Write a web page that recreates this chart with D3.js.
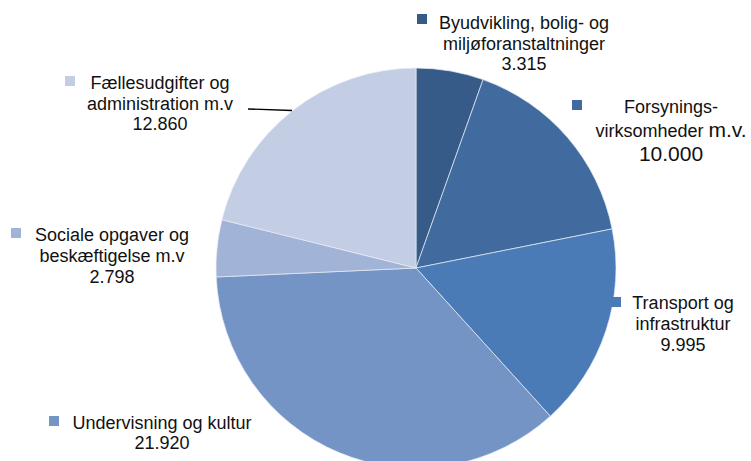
<!DOCTYPE html>
<html>
<head>
<meta charset="utf-8">
<title>Udgifter fordelt på hovedområder</title>
<script src="https://d3js.org/d3.v7.min.js"></script>
<style>
  body { margin: 0; background: #fff; }
  text { font-family: "Liberation Sans", Arial, sans-serif; fill: #111; }
</style>
</head>
<body>
<svg class="chart"></svg>
<script>
// data
const categories = [
  "Byudvikling, bolig- og miljøforanstaltninger",
  "Forsyningsvirksomheder m.v.",
  "Transport og infrastruktur",
  "Undervisning og kultur",
  "Sociale opgaver og beskæftigelse m.v",
  "Fællesudgifter og administration m.v"
];
const values = [3315, 10000, 9995, 21920, 2798, 12860];
const labelLines = [
  ["Byudvikling, bolig- og", "miljøforanstaltninger"],
  ["Forsynings-", "virksomheder |m.v."],
  ["Transport og", "infrastruktur"],
  ["Undervisning og kultur"],
  ["Sociale opgaver og", "beskæftigelse m.v"],
  ["Fællesudgifter og", "administration m.v"]
];
const colors = ["#375b88", "#416b9f", "#4a7bb6", "#7494c6", "#a1b3d6", "#c3cde3"];

// layout
const width = 751, height = 461;
const cx = 416, cy = 268, radius = 200;
// label placement: centre x, first baseline y, line step, marker x/y
const labelPos = [
  {x: 524, y: 29, step: 20.5, mx: 417, my: 14},
  {x: 671, y: 113, step: 24, mx: 572, my: 100, big: true},
  {x: 683, y: 309, step: 21, mx: 611, my: 297},
  {x: 162, y: 429, step: 20, mx: 49, my: 416},
  {x: 112, y: 241, step: 21, mx: 11, my: 228},
  {x: 160, y: 89, step: 20.5, mx: 65, my: 76}
];

const dk = d3.formatLocale({decimal: ",", thousands: ".", grouping: [3], currency: ["", " kr"]});
const fmt = dk.format(",d");

const svg = d3.select(".chart").attr("width", width).attr("height", height);

const pie = d3.pie().sort(null).value(d => d)
  .startAngle(0).endAngle(2 * Math.PI);
const arc = d3.arc().innerRadius(0).outerRadius(radius);

const g = svg.append("g").attr("transform", "translate(" + cx + "," + cy + ")");

g.selectAll("path")
  .data(pie(values))
  .enter()
  .append("path")
  .attr("d", arc)
  .attr("fill", (d, i) => colors[i])
  .attr("stroke", "#e8edf5")
  .attr("stroke-width", 0.7);

// leader line for Fællesudgifter (ends just inside the slice edge)
svg.append("line")
  .attr("x1", 248).attr("y1", 109)
  .attr("x2", 292).attr("y2", 110.5)
  .attr("stroke", "#000").attr("stroke-width", 1.3);

// labels
const labels = svg.selectAll(".lbl")
  .data(categories)
  .enter()
  .append("g")
  .attr("class", "lbl");

labels.append("rect")
  .attr("x", (d, i) => labelPos[i].mx)
  .attr("y", (d, i) => labelPos[i].my)
  .attr("width", 10).attr("height", 10)
  .attr("fill", (d, i) => colors[i]);

labels.each(function(d, i) {
  const p = labelPos[i];
  const t = d3.select(this).append("text")
    .attr("text-anchor", "middle")
    .style("font-size", "18px");
  const lines = labelLines[i];
  lines.forEach((ln, k) => {
    const parts = ln.split("|");
    t.append("tspan").attr("x", p.x).attr("y", p.y + k * p.step).text(parts[0]);
    if (parts.length > 1) {
      t.append("tspan").style("font-size", "21px").text(parts[1]);
    }
  });
  t.append("tspan")
    .attr("x", p.x)
    .attr("y", p.y + lines.length * p.step)
    .style("font-size", p.big ? "21px" : null)
    .text(fmt(values[i]));
});
</script>
</body>
</html>
